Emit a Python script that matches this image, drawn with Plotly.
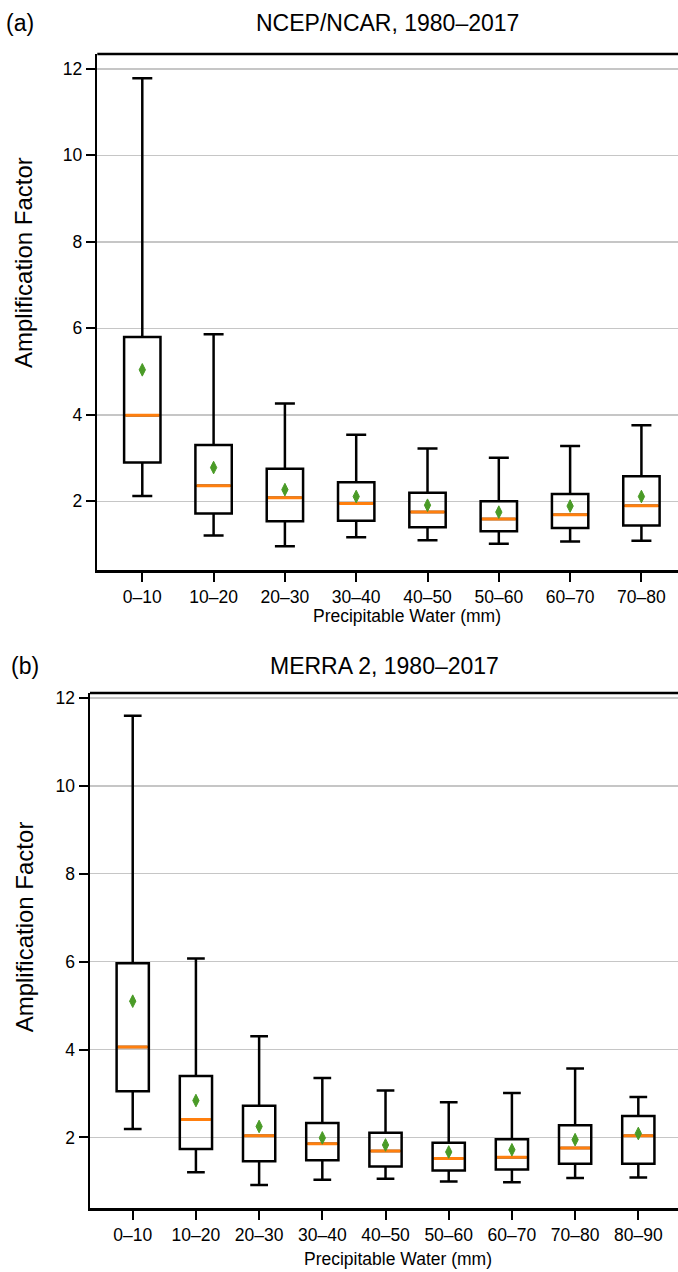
import plotly.graph_objects as go

# ---------------- data ----------------
top_cats = ["0–10", "10–20", "20–30", "30–40", "40–50", "50–60", "60–70", "70–80"]
top_low = [2.12, 1.21, 0.96, 1.17, 1.10, 1.02, 1.07, 1.09]
top_q1 = [2.90, 1.72, 1.54, 1.55, 1.40, 1.31, 1.38, 1.44]
top_median = [3.99, 2.36, 2.08, 1.95, 1.75, 1.59, 1.69, 1.90]
top_q3 = [5.80, 3.30, 2.75, 2.44, 2.20, 2.00, 2.17, 2.58]
top_high = [11.78, 5.86, 4.26, 3.54, 3.22, 3.01, 3.28, 3.76]
top_mean = [5.04, 2.78, 2.27, 2.11, 1.91, 1.75, 1.89, 2.11]

bot_cats = ["0–10", "10–20", "20–30", "30–40", "40–50", "50–60", "60–70", "70–80", "80–90"]
bot_low = [2.19, 1.21, 0.92, 1.04, 1.06, 1.00, 0.98, 1.08, 1.09]
bot_q1 = [3.05, 1.74, 1.46, 1.48, 1.34, 1.25, 1.27, 1.40, 1.40]
bot_median = [4.06, 2.41, 2.04, 1.86, 1.69, 1.52, 1.55, 1.76, 2.04]
bot_q3 = [5.96, 3.40, 2.72, 2.33, 2.11, 1.88, 1.96, 2.28, 2.49]
bot_high = [11.59, 6.07, 4.30, 3.35, 3.07, 2.80, 3.01, 3.57, 2.92]
bot_mean = [5.10, 2.84, 2.25, 1.99, 1.83, 1.67, 1.72, 1.95, 2.09]

y_ticks = [2, 4, 6, 8, 10, 12]

# ---------------- styling ----------------
W, H = 678, 1272
FONT = "Liberation Sans, Arial, sans-serif"
BOX_W = 0.51
LINE_W = 2.5
GREEN = "#4a9b27"
ORANGE = "#ff7f0e"

top_xdom = [97.3 / W, 1.0]
top_ydom = [1 - 567.3 / H, 1 - 49.3 / H]
top_xrange = [-0.631, 7.513]
top_yrange = [0.41, 12.34]

bot_xdom = [90.0 / W, 1.0]
bot_ydom = [1 - 1208.0 / H, 1 - 690.7 / H]
bot_xrange = [-0.676, 8.628]
bot_yrange = [0.39, 12.11]


def px_per_cat(xdom, xrange):
    return (xdom[1] - xdom[0]) * W / (xrange[1] - xrange[0])


fig = go.Figure()


def add_panel(cats, low, q1, med, q3, high, mean, xa, ya, xdom, xrange):
    fig.add_trace(go.Box(
        x=cats, lowerfence=low, q1=q1, median=med, q3=q3, upperfence=high,
        width=BOX_W, whiskerwidth=0.55,
        line=dict(color="black", width=LINE_W),
        fillcolor="rgba(0,0,0,0)", boxpoints=False,
        showlegend=False, hoverinfo="skip", xaxis=xa, yaxis=ya,
    ))
    med_len = BOX_W * px_per_cat(xdom, xrange) - LINE_W
    fig.add_trace(go.Scatter(
        x=cats, y=med, mode="markers", xaxis=xa, yaxis=ya,
        marker=dict(symbol="line-ew", size=med_len / 1.4,
                    line=dict(color=ORANGE, width=3)),
        showlegend=False, hoverinfo="skip",
    ))
    fig.add_trace(go.Scatter(
        x=cats, y=mean, mode="markers", xaxis=xa, yaxis=ya,
        marker=dict(symbol="diamond-tall", size=9, color=GREEN,
                    line=dict(color=GREEN, width=1)),
        showlegend=False, hoverinfo="skip",
    ))


add_panel(top_cats, top_low, top_q1, top_median, top_q3, top_high, top_mean,
          "x", "y", top_xdom, top_xrange)
add_panel(bot_cats, bot_low, bot_q1, bot_median, bot_q3, bot_high, bot_mean,
          "x2", "y2", bot_xdom, bot_xrange)

tickfont = dict(family=FONT, size=17.5, color="black")
xcommon = dict(type="category", showline=True, linecolor="black", linewidth=LINE_W,
               ticks="outside", ticklen=9, tickwidth=2, tickcolor="black",
               showgrid=False, zeroline=False, tickfont=tickfont, fixedrange=True)
ycommon = dict(showline=True, linecolor="black", linewidth=LINE_W,
               ticks="outside", ticklen=9, tickwidth=2, tickcolor="black",
               tickvals=y_ticks, showgrid=True, gridcolor="#c6c6c6", gridwidth=1.5,
               zeroline=False, tickfont=tickfont, fixedrange=True)

fig.update_layout(
    width=W, height=H,
    margin=dict(l=0, r=0, t=0, b=0),
    paper_bgcolor="white", plot_bgcolor="white",
    font=dict(family=FONT, color="black"),
    xaxis=dict(xcommon, domain=top_xdom, range=top_xrange, anchor="y",
               categoryorder="array", categoryarray=top_cats),
    yaxis=dict(ycommon, domain=top_ydom, range=top_yrange, anchor="x"),
    xaxis2=dict(xcommon, domain=bot_xdom, range=bot_xrange, anchor="y2",
                categoryorder="array", categoryarray=bot_cats),
    yaxis2=dict(ycommon, domain=bot_ydom, range=bot_yrange, anchor="x2"),
)

# top borders of the axes boxes
for xr, yr in (("x domain", "y domain"), ("x2 domain", "y2 domain")):
    fig.add_shape(type="line", xref=xr, yref=yr, x0=0, x1=1, y0=1, y1=1,
                  line=dict(color="black", width=LINE_W))


def ann(text, x, y, size, angle=0):
    fig.add_annotation(text=text, x=x / W, y=1 - y / H, xref="paper", yref="paper",
                       xanchor="center", yanchor="middle", showarrow=False,
                       textangle=angle, font=dict(family=FONT, size=size, color="black"))


ann("(a)", 20, 18, 23)
ann("NCEP/NCAR, 1980–2017", 387, 18, 23)
ann("(b)", 25, 664, 23)
ann("MERRA 2, 1980–2017", 385, 664, 23)
ann("Amplification Factor", 24, 259, 24, -90)
ann("Amplification Factor", 24, 926, 24, -90)
ann("Precipitable Water (mm)", 406.7, 613, 17.5)
ann("Precipitable Water (mm)", 397.5, 1259, 17.5)

fig.write_html(
    "out.html",
    config={"displayModeBar": False, "staticPlot": True},
    post_script="document.body.style.margin='0';document.body.style.overflow='hidden';",
)
